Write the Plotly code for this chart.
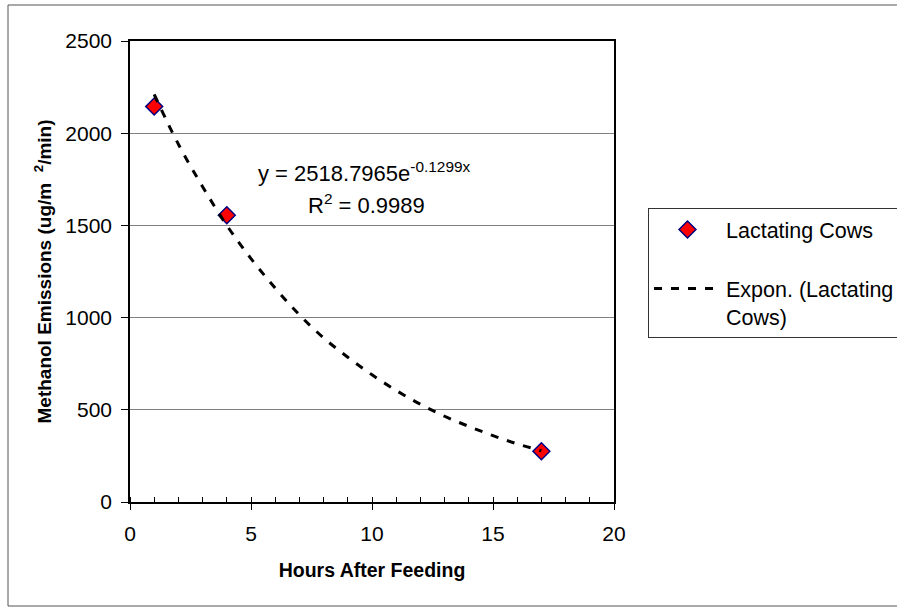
import plotly.graph_objects as go

# Observed data
hours = [1, 4, 17]
methanol = [2145, 1555, 275]

# Exponential trendline
trend_x = [1, 2, 3, 4, 5, 6, 7, 8, 9, 10, 11, 12, 13, 14, 15, 16, 17]
trend_y = [2210, 1940, 1710, 1500, 1320, 1160, 1015, 890, 785, 690, 605, 530, 465, 410, 360, 315, 278]

series_name = "Lactating Cows"
trend_name = "Expon. (Lactating<br>Cows)"
equation_text = "y = 2518.7965e<sup>-0.1299x</sup>"
r2_text = "R<sup>2</sup> = 0.9989"
x_title = "Hours After Feeding"
y_title = "Methanol Emissions (ug/m\u00a0\u00a0<sup>2</sup>/min)"

FONT = "Arial, Liberation Sans, sans-serif"

fig = go.Figure()
fig.add_trace(go.Scatter(
    x=hours, y=methanol, mode="markers", name=series_name,
    legendgroup="a",
    marker=dict(symbol="diamond", size=13, color="#ff0000",
                line=dict(color="#000080", width=1.5)),
))
fig.add_trace(go.Scatter(
    x=trend_x, y=trend_y, mode="lines", name=trend_name,
    legendgroup="b", line_shape="spline",
    line=dict(color="black", width=3, dash="8px,9px"),
))

W, H = 897, 608
L, R, T, B = 130, 283, 41, 106
pw, ph = W - L - R, H - T - B

def px(xp):
    return (xp - L) / pw

def py(yp):
    return (H - B - yp) / ph

fig.update_layout(
    width=W, height=H,
    margin=dict(l=L, r=R, t=T, b=B, autoexpand=False),
    paper_bgcolor="white", plot_bgcolor="white",
    font=dict(family=FONT, size=21, color="black"),
    showlegend=True,
    legend=dict(
        x=px(648), y=py(208), xanchor="left", yanchor="top",
        bordercolor="#333333", borderwidth=1, bgcolor="white",
        font=dict(size=21.5), valign="top",
        traceorder="grouped", tracegroupgap=28, itemwidth=67,
    ),
    xaxis=dict(
        range=[0, 20], dtick=5, tick0=0,
        showgrid=False, zeroline=False,
        showline=True, linecolor="black", linewidth=1.5, mirror=True,
        ticks="outside", ticklen=6, tickcolor="black",
        minor=dict(dtick=1, ticks="inside", ticklen=5, tickcolor="black", showgrid=False),
        tickfont=dict(size=21), ticklabelstandoff=6,
        title=dict(text=x_title, font=dict(size=19.5, family=FONT, weight="bold"), standoff=19),
    ),
    yaxis=dict(
        range=[0, 2500], dtick=500, tick0=0,
        showgrid=True, gridcolor="#808080", gridwidth=1, zeroline=False,
        showline=True, linecolor="black", linewidth=1.5, mirror=True,
        ticks="outside", ticklen=7, tickcolor="black",
        tickfont=dict(size=21), ticklabelstandoff=5,
        title=dict(text=y_title, font=dict(size=19, family=FONT, weight="bold"), standoff=9),
    ),
    shapes=[dict(
        type="rect", xref="paper", yref="paper",
        x0=px(8), x1=px(905), y0=py(606), y1=py(5),
        line=dict(color="#555555", width=1), fillcolor="rgba(0,0,0,0)", layer="below",
    )],
    annotations=[
        dict(text=equation_text, xref="paper", yref="paper", x=px(364), y=py(172),
             showarrow=False, font=dict(size=22), xanchor="center", yanchor="middle"),
        dict(text=r2_text, xref="paper", yref="paper", x=px(366), y=py(204),
             showarrow=False, font=dict(size=22), xanchor="center", yanchor="middle"),
    ],
)

fig.write_html("out.html", config={"displayModeBar": False},
               post_script="document.body.style.margin='0';")
